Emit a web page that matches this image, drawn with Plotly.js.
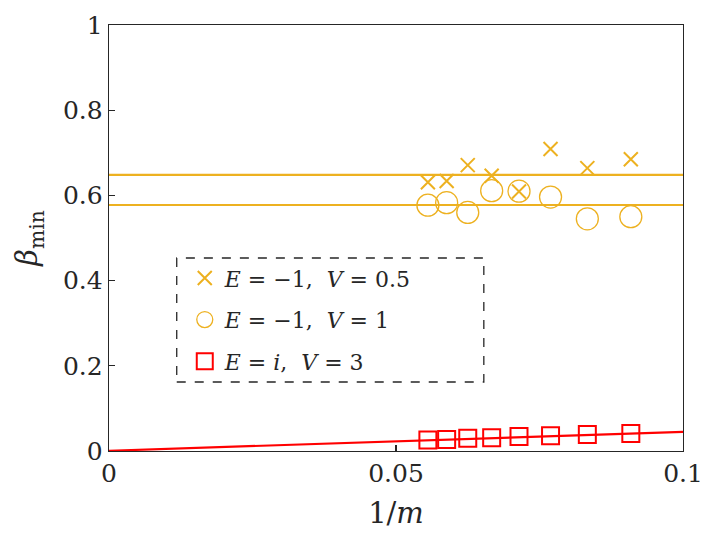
<!DOCTYPE html>
<html>
<head>
<meta charset="utf-8">
<script src="https://cdn.plot.ly/plotly-3.0.1.min.js"></script>
<style>html,body{margin:0;padding:0;background:#fff;}#chart{width:711px;height:541px;}</style>
</head>
<body>
<div id="chart"></div>
<script>
// 1/m for m = 18 ... 11
const invM = [1/18, 1/17, 1/16, 1/15, 1/14, 1/13, 1/12, 1/11];
const betaV05 = [0.631, 0.634, 0.671, 0.646, 0.609, 0.709, 0.664, 0.685];
const betaV1 = [0.577, 0.583, 0.560, 0.611, 0.610, 0.596, 0.545, 0.550];
const betaV3 = [0.026, 0.027, 0.030, 0.031, 0.034, 0.036, 0.039, 0.041];
const fitX = [0, 0.1];
const fitV05 = [0.648, 0.648];
const fitV1 = [0.5775, 0.5775];
const fitV3 = [0.0005, 0.045];
const labels = ['<i>E</i> = −1,  <i>V</i> = 0.5', '<i>E</i> = −1,  <i>V</i> = 1', '<i>E</i> = <i>i</i>,  <i>V</i> = 3'];
const xTicks = [0, 0.05, 0.1];
const xTickText = ['0', '0.05', '0.1'];
const yTicks = [0, 0.2, 0.4, 0.6, 0.8, 1];
const yTickText = ['0', '0.2', '0.4', '0.6', '0.8', '1'];

const orange = '#EDB120';
const red = '#FF0000';
const font = 'DejaVu Serif';
const ink = '#262626';

const traces = [
  {x: fitX, y: fitV05, mode: 'lines', line: {color: orange, width: 2.2}, showlegend: false, hoverinfo: 'skip'},
  {x: fitX, y: fitV1, mode: 'lines', line: {color: orange, width: 2.2}, showlegend: false, hoverinfo: 'skip'},
  {x: fitX, y: fitV3, mode: 'lines', line: {color: red, width: 2.2}, showlegend: false, hoverinfo: 'skip'},
  {x: invM, y: betaV05, mode: 'markers', name: labels[0], legendgroup: 'a',
   marker: {symbol: 'x-thin-open', size: 14, color: orange, line: {color: orange, width: 2}}},
  {x: invM, y: betaV1, mode: 'markers', name: labels[1], legendgroup: 'b',
   marker: {symbol: 'circle-open', size: 22, color: orange, line: {color: orange, width: 1.3}}},
  {x: invM, y: betaV3, mode: 'markers', name: labels[2], legendgroup: 'c',
   marker: {symbol: 'square-open', size: 17, color: red, line: {color: red, width: 2}}}
];

function axis(extra) {
  return Object.assign({
    showgrid: false, zeroline: false, showline: true, mirror: true,
    linecolor: ink, linewidth: 1.3, ticks: 'inside', ticklen: 6,
    tickcolor: ink, tickwidth: 1.2,
    tickfont: {family: font, size: 25, color: ink}
  }, extra);
}

const layout = {
  width: 711, height: 541,
  margin: {l: 109, r: 28, t: 25, b: 90},
  paper_bgcolor: '#fff', plot_bgcolor: '#fff',
  font: {family: font, size: 22, color: ink},
  xaxis: axis({
    range: [0, 0.1], tickvals: xTicks, ticktext: xTickText,
    title: {text: '1/<i>m</i>', font: {family: font, size: 29, color: ink}, standoff: 15}
  }),
  yaxis: axis({
    range: [0, 1], tickvals: yTicks, ticktext: yTickText,
    title: {text: '<i>β</i><sub>min</sub>', font: {family: font, size: 29, color: ink}, standoff: 16}
  }),
  legend: {
    x: 0.132, y: 0.455, xanchor: 'left', yanchor: 'top',
    bgcolor: 'rgba(0,0,0,0)', borderwidth: 0,
    font: {family: font, size: 22, color: ink},
    tracegroupgap: 10
  },
  shapes: [{
    type: 'rect', xref: 'paper', yref: 'paper',
    x0: 0.118, x1: 0.653, y0: 0.162, y1: 0.453,
    line: {color: ink, width: 1.3, dash: 'dash'}, fillcolor: 'rgba(0,0,0,0)'
  }]
};

Plotly.newPlot('chart', traces, layout, {displayModeBar: false, staticPlot: true});
</script>
</body>
</html>
